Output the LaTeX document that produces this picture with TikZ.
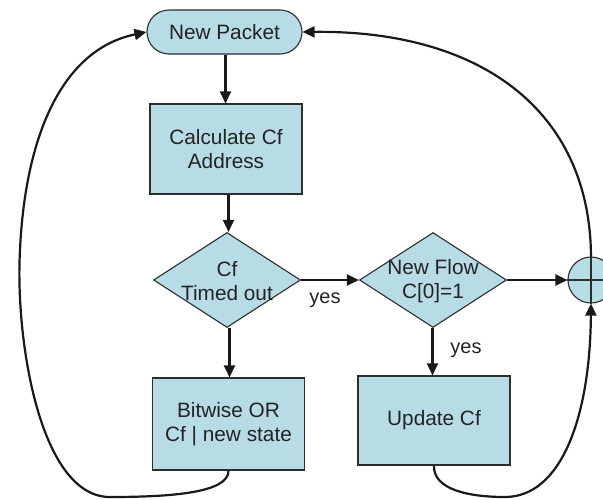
\documentclass[tikz,border=0pt]{standalone}
\usepackage{fontspec}
\setmainfont{Liberation Sans}
\usetikzlibrary{arrows.meta,shapes.geometric}
\definecolor{boxfill}{RGB}{184,220,230}
\definecolor{boxline}{RGB}{45,45,45}
\definecolor{txt}{RGB}{35,35,35}
\begin{document}
\begin{tikzpicture}[x=1pt,y=-1pt,
  every node/.style={font=\fontsize{20.8}{24}\selectfont, text=txt},
  shapebase/.style={draw=boxline, fill=boxfill, line width=1.1pt},
  procbox/.style={shapebase, rectangle, minimum width=152pt, minimum height=90pt, align=center, inner sep=0pt},
  startbox/.style={shapebase, rectangle, rounded corners=22pt, minimum width=155pt, minimum height=44pt, inner sep=0pt},
  decbox/.style={shapebase, diamond, minimum width=147pt, minimum height=95pt, inner sep=0pt},
  sumbox/.style={shapebase, circle, minimum size=46pt, inner sep=0pt},
  flow/.style={line width=2.4pt, draw=black!90, -{Triangle[length=12pt,width=11pt]}},
  loopline/.style={line width=2.2pt, draw=black!90, -{Triangle[length=12pt,width=11pt]}},
  lbl/.style={font=\fontsize{20}{24}\selectfont}
]
\useasboundingbox (0,0) rectangle (603,499);

\node[startbox] (np) at (224.5,32) {New Packet};
\node[procbox] (calc) at (226,149) {Calculate Cf\\Address};
\node[decbox] (d1) at (227,280) {};
\node[align=center] (d1t) at (227,281) {Cf\\Timed out};
\node[decbox] (d2) at (433,280) {};
\node[align=center] (d2t) at (433,281) {New Flow\\C[0]=1};
\node[sumbox] (sum) at (591,280) {};
\draw[boxline, line width=1.4pt] (sum.north) -- (sum.south) (sum.west) -- (sum.east);
\node[procbox, minimum height=92pt] (bit) at (228.5,424) {Bitwise OR\\Cf | new state};
\node[procbox, minimum height=89pt] (upd) at (434,420.5) {Update Cf};

\node[lbl] (yes1) at (325,300) {yes};
\node[lbl] (yes2) at (466,350) {yes};

\draw[flow] (np.south -| 225.5,0) -- (calc.north -| 225.5,0);
\draw[flow] (calc.south -| 228.5,0) -- (d1.north -| 228.5,0);
\draw[flow] (d1.east) -- (d2.west);
\draw[flow] (d2.east) -- (sum.west);
\draw[flow] (d1.south -| 229.5,0) -- (bit.north -| 229.5,0);
\draw[flow] (d2.south -| 432.5,0) -- (upd.north -| 432.5,0);

\draw[loopline] (bit.south) .. controls (229,493) and (170,497) .. (110,497)
  .. controls (40,497) and (15,340) .. (20,250)
  .. controls (25,140) and (60,50) .. (np.west);
\draw[loopline] (upd.south) .. controls (433,490) and (470,497) .. (505,497)
  .. controls (560,497) and (590,420) .. (sum.south);
\draw[loopline] (sum.north) .. controls (590,110) and (480,30) .. (np.east);
\end{tikzpicture}
\end{document}
